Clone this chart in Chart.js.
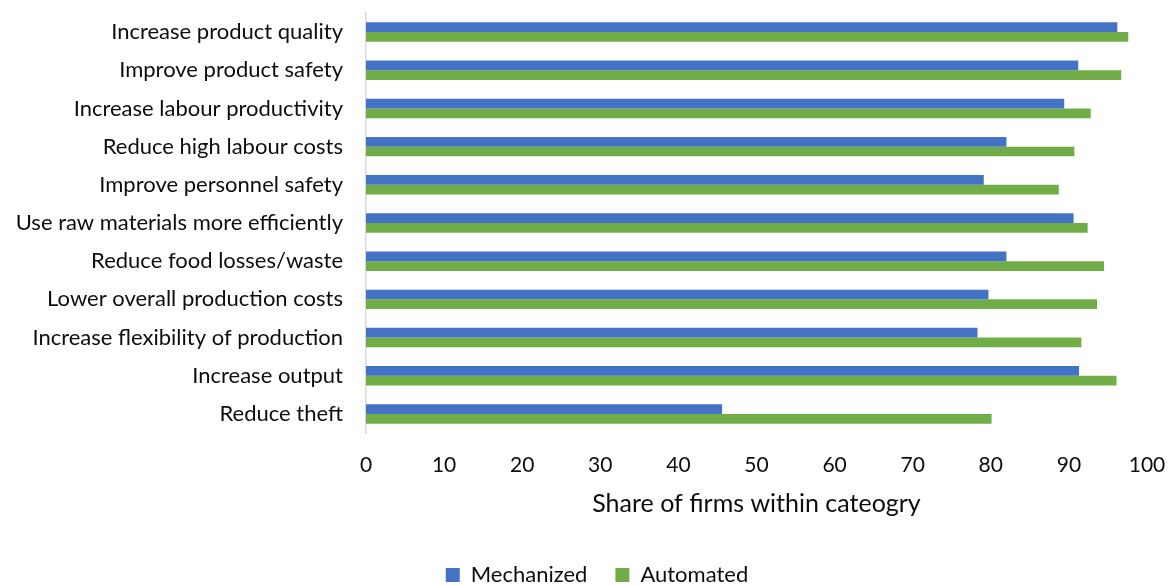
<!DOCTYPE html>
<html>
<head>
<meta charset="utf-8">
<title>Motives for mechanization and automation</title>
<script src="https://cdn.jsdelivr.net/npm/chart.js@4/dist/chart.umd.min.js"></script>
<style>
    html, body { margin: 0; padding: 0; background: #fff; }
    #wrap { width: 1173px; height: 586px; position: relative; }
</style>
</head>
<body>
<div id="wrap"><canvas id="motivesChart"></canvas></div>
<script>
const categories = [
    "Increase product quality",
    "Improve product safety",
    "Increase labour productivity",
    "Reduce high labour costs",
    "Improve personnel safety",
    "Use raw materials more efficiently",
    "Reduce food losses/waste",
    "Lower overall production costs",
    "Increase flexibility of production",
    "Increase output",
    "Reduce theft"
];

// values (share of firms, %)
const mechanized = [96.2, 91.2, 89.4, 82.0, 79.1, 90.6, 82.0, 79.7, 78.3, 91.3, 45.6];
const automated  = [97.6, 96.7, 92.8, 90.7, 88.7, 92.4, 94.5, 93.6, 91.6, 96.1, 80.1];

const xTicks = [0, 10, 20, 30, 40, 50, 60, 70, 80, 90, 100];

const fontFamily = "Lato, 'Open Sans', sans-serif";
const textColor = '#0d0d0d';

// legend in the original sits a bit right of the page centre
const shiftLegend = {
    id: 'shiftLegend',
    afterLayout(chart) {
        if (chart.legend) chart.legend.left = 47;
    }
};

document.addEventListener("DOMContentLoaded", function() {
    const ctx = document.getElementById('motivesChart').getContext('2d');

    new Chart(ctx, {
        type: 'bar',
        data: {
            labels: categories,
            datasets: [
                {
                    label: 'Mechanized',
                    data: mechanized,
                    backgroundColor: '#4472C4'
                },
                {
                    label: 'Automated',
                    data: automated,
                    backgroundColor: '#70AD47'
                }
            ]
        },
        plugins: [shiftLegend],
        options: {
            indexAxis: 'y',
            responsive: true,
            maintainAspectRatio: false,
            animation: false,
            datasets: {
                bar: { categoryPercentage: 0.51, barPercentage: 1.0 }
            },
            layout: {
                padding: { top: 13, right: 26, bottom: 0, left: 4 }
            },
            plugins: {
                legend: {
                    position: 'bottom',
                    maxHeight: 50,
                    labels: {
                        boxWidth: 14,
                        boxHeight: 14,
                        padding: 28,
                        color: textColor,
                        font: { family: fontFamily, size: 22 }
                    }
                },
                title: { display: false },
                tooltip: { enabled: false }
            },
            scales: {
                x: {
                    min: 0,
                    max: 100,
                    afterBuildTicks: axis => {
                        axis.ticks = xTicks.map(v => ({ value: v }));
                    },
                    afterFit: axis => {
                        axis.height = 103;
                        axis.paddingLeft = 0;
                        axis.paddingRight = 0;
                    },
                    grid: { display: false, drawTicks: false },
                    border: { display: false },
                    ticks: {
                        padding: 19.4,
                        color: textColor,
                        font: { family: fontFamily, size: 21 }
                    },
                    title: {
                        display: true,
                        text: 'Share of firms within cateogry',
                        color: textColor,
                        padding: { top: 0, bottom: 17.5 },
                        font: { family: fontFamily, size: 25 }
                    }
                },
                y: {
                    afterFit: axis => {
                        axis.width = 362;
                        axis.paddingTop = 0;
                        axis.paddingBottom = 0;
                    },
                    grid: { display: false, drawTicks: false },
                    border: { display: true, color: '#d9d9d9', width: 1.5 },
                    ticks: {
                        padding: 23,
                        color: textColor,
                        font: { family: fontFamily, size: 22 }
                    }
                }
            }
        }
    });
});
</script>
</body>
</html>
